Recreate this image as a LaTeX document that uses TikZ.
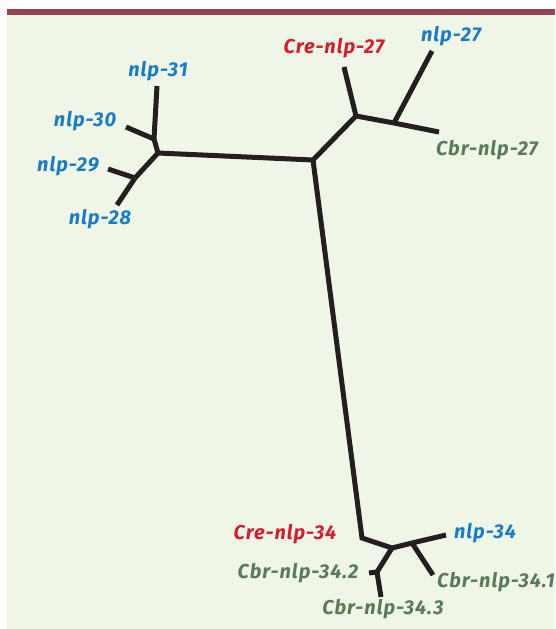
\documentclass[tikz,border=0pt]{standalone}
\usepackage{fontspec}
\newfontfamily\labfont[LetterSpace=5]{Fira Sans}
\definecolor{bgpanel}{HTML}{EFF5E7}
\definecolor{rulecol}{HTML}{944450}
\definecolor{treecol}{HTML}{231F20}
\definecolor{celeg}{HTML}{1A7DC4}
\definecolor{crem}{HTML}{D0202E}
\definecolor{cbri}{HTML}{5A7A5A}
\tikzset{
  branch/.style={draw=treecol, line width=5pt, line cap=butt, line join=miter},
  lab/.style={font=\labfont\bfseries\itshape\fontsize{20}{24}\selectfont, inner sep=0pt},
  elegans/.style={lab, text=celeg},
  remanei/.style={lab, text=crem},
  briggsae/.style={lab, text=cbri},
}
\begin{document}
\begin{tikzpicture}[x=1pt, y=-1pt]
  \useasboundingbox (0,0) rectangle (555,629);
  % panel and top rule
  \fill[white] (0,0) rectangle (555,629);
  \fill[bgpanel] (7,15) rectangle (555,629);
  \fill[rulecol] (7,9) rectangle (555,15);

  % internal junctions
  \coordinate (C)  at (313,160);
  \coordinate (L)  at (158,153);
  \coordinate (La) at (154,139);
  \coordinate (Lb) at (135,178);
  \coordinate (R1) at (356,116);
  \coordinate (R2) at (394,123);
  \coordinate (K)  at (362,538);
  \coordinate (B1) at (392,548);
  \coordinate (B2) at (412,543);
  \coordinate (B3) at (377,572);

  % leaf tips
  \coordinate (t31)  at (157,86);
  \coordinate (t30)  at (126,127);
  \coordinate (t29)  at (108,169);
  \coordinate (t28)  at (117,205);
  \coordinate (tC27) at (344,67);
  \coordinate (t27)  at (432,51);
  \coordinate (tB27) at (439,132);
  \coordinate (t34)  at (446,535);
  \coordinate (tB341) at (433,575);
  \coordinate (tB342) at (369,573);
  \coordinate (tB343) at (381,597);

  % branches
  \draw[branch] (L) -- (C);
  \draw[branch] (L) -- (La);
  \draw[branch] (La) -- (t31);
  \draw[branch] (La) -- (t30);
  \draw[branch] (L) -- (Lb);
  \draw[branch] (Lb) -- (t29);
  \draw[branch] (Lb) -- (t28);
  \draw[branch] (C) -- (R1);
  \draw[branch] (R1) -- (tC27);
  \draw[branch] (R1) -- (R2);
  \draw[branch] (R2) -- (t27);
  \draw[branch] (R2) -- (tB27);
  \draw[branch] (C) -- (K) -- (B1);
  \draw[branch] (B1) -- (B2);
  \draw[branch] (B2) -- (t34);
  \draw[branch] (B2) -- (tB341);
  \draw[branch] (B1) -- (B3);
  \draw[branch] (B3) -- (tB342);
  \draw[branch] (B3) -- (tB343);

  % labels
  \node[elegans]  (n31)  at (158,71)  {nlp-31};
  \node[elegans]  (n30)  at (85,121)  {nlp-30};
  \node[elegans]  (n29)  at (68,166)  {nlp-29};
  \node[elegans]  (n28)  at (100,219) {nlp-28};
  \node[remanei]  (nC27) at (334,48)  {Cre-nlp-27};
  \node[elegans]  (n27)  at (451,36)  {nlp-27};
  \node[briggsae] (nB27) at (487,150) {Cbr-nlp-27};
  \node[remanei]  (nC34) at (285,534) {Cre-nlp-34};
  \node[elegans]  (n34)  at (485,533) {nlp-34};
  \node[briggsae] (nB342) at (298,573) {Cbr-nlp-34.2};
  \node[briggsae] (nB341) at (496,582) {Cbr-nlp-34.1};
  \node[briggsae] (nB343) at (383,609) {Cbr-nlp-34.3};
\end{tikzpicture}
\end{document}
